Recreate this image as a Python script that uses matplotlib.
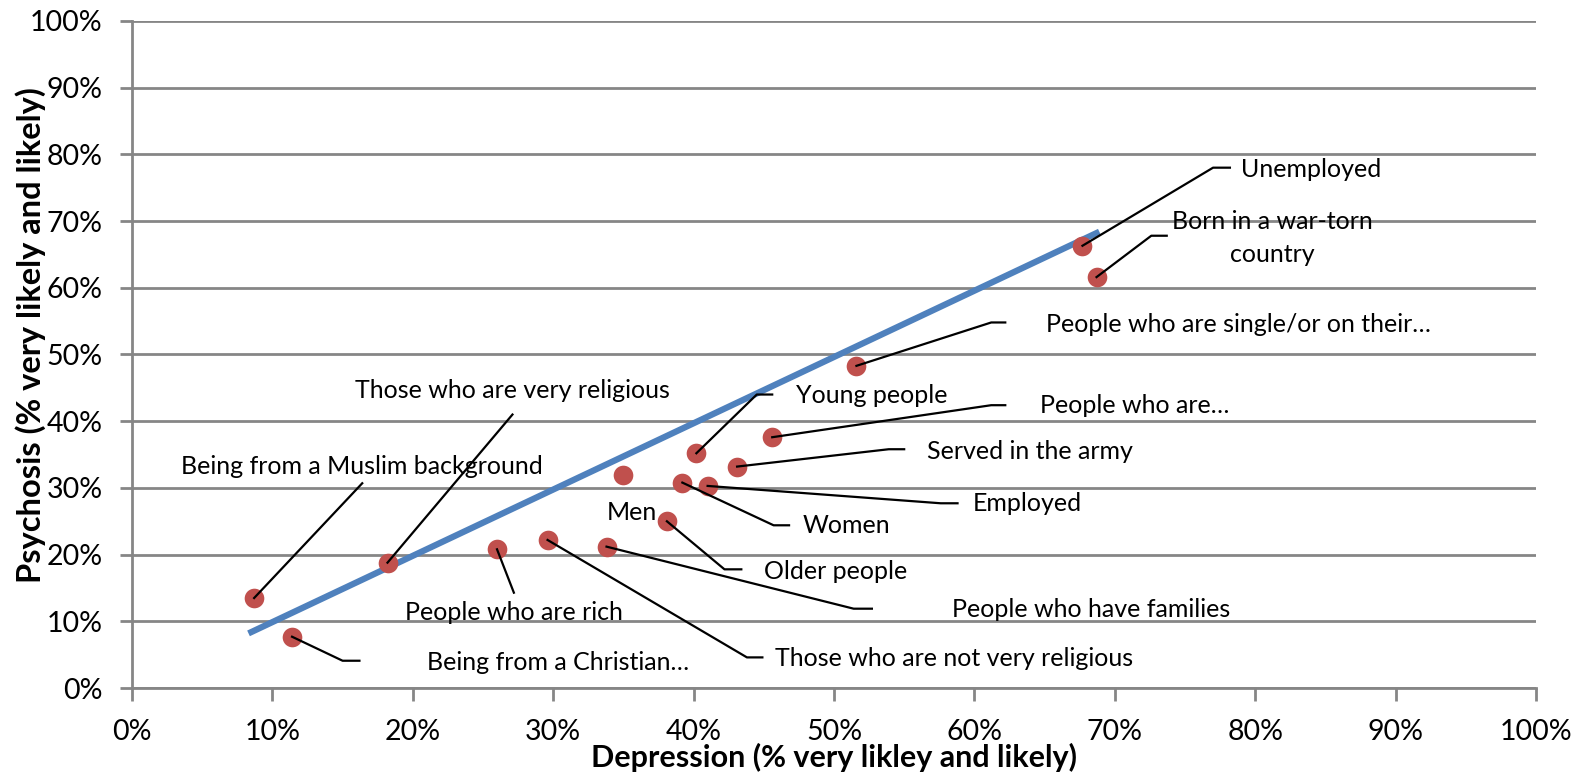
import numpy as np
import matplotlib.pyplot as plt
from matplotlib.ticker import PercentFormatter

plt.rcParams['font.family'] = ['Lato', 'DejaVu Sans']

# datos (% muy probable y probable)
grupos = ['Being from a Muslim background', 'Being from a Christian…', 'Those who are very religious',
          'People who are rich', 'Those who are not very religious', 'People who have families', 'Men',
          'Older people', 'Women', 'Employed', 'Young people', 'Served in the army', 'People who are…',
          'People who are single/or on their…', 'Unemployed', 'Born in a war-torn\ncountry']
depresion = [8.7, 11.4, 18.2, 26.0, 29.6, 33.8, 35.0, 38.1, 39.2, 41.0, 40.2, 43.1, 45.6, 51.6, 67.7, 68.7]
psicosis = [13.5, 7.7, 18.8, 20.8, 22.2, 21.2, 31.9, 25.0, 30.8, 30.3, 35.2, 33.2, 37.6, 48.3, 66.3, 61.6]

# linea de tendencia
tend_x = [8.3, 68.9]
tend_y = [8.2, 68.4]

# posicion de las etiquetas: (x texto, y texto, alineacion, codo x, codo y, fin x)
etiquetas = [
    (16.4, 33.2, 'center', 16.4, 30.7, None),
    (21.0, 3.9, 'left', 15.0, 4.1, 16.2),
    (27.1, 44.6, 'center', 27.1, 41.0, None),
    (27.2, 11.4, 'center', 27.2, 14.3, None),
    (45.8, 4.4, 'left', 43.8, 4.6, 44.9),
    (58.4, 11.8, 'left', 51.4, 11.9, 52.7),
    (35.6, 26.3, 'center', None, None, None),
    (45.0, 17.5, 'left', 42.2, 17.8, 43.4),
    (47.8, 24.3, 'left', 45.7, 24.4, 46.8),
    (59.9, 27.6, 'left', 57.6, 27.7, 58.8),
    (47.3, 43.9, 'left', 44.5, 44.0, 45.6),
    (56.6, 35.4, 'left', 53.9, 35.8, 55.0),
    (64.7, 42.3, 'left', 61.2, 42.4, 62.2),
    (65.1, 54.5, 'left', 61.2, 54.8, 62.2),
    (79.0, 77.7, 'left', 77.0, 78.0, 78.2),
    (81.2, 67.5, 'center', 72.6, 67.8, 73.7),
]

gris = '#868686'

fig = plt.figure(figsize=(15.94, 7.74), dpi=100)
ax = fig.add_axes([0.0828, 0.111, 0.8808, 0.862])

ax.plot(tend_x, tend_y, color='#4F81BD', linewidth=4.5, zorder=2, solid_capstyle='butt')
ax.scatter(depresion, psicosis, s=200, color='#C0504D', zorder=3, linewidths=0)

for i, (tx, ty, ha, cx, cy, fx) in enumerate(etiquetas):
    if cx is not None:
        xs = [depresion[i], cx]
        ys = [psicosis[i], cy]
        if fx is not None:
            xs.append(fx)
            ys.append(cy)
        ax.plot(xs, ys, color='black', linewidth=1.6, zorder=4)
    ax.text(tx, ty, grupos[i], ha=ha, va='center', fontsize=18, zorder=5,
            linespacing=1.55)

ax.set_xlim(0, 100)
ax.set_ylim(0, 100)
ax.set_xticks(np.arange(0, 101, 10))
ax.set_yticks(np.arange(0, 101, 10))
ax.xaxis.set_major_formatter(PercentFormatter(decimals=0))
ax.yaxis.set_major_formatter(PercentFormatter(decimals=0))
ax.grid(axis='y', color=gris, linewidth=2)
ax.set_axisbelow(True)
for lado in ['top', 'right']:
    ax.spines[lado].set_visible(False)
for lado in ['left', 'bottom']:
    ax.spines[lado].set_color(gris)
    ax.spines[lado].set_linewidth(2)
ax.tick_params(axis='both', colors=gris, width=2, length=9, labelcolor='black', labelsize=20.5)
ax.tick_params(axis='x', pad=13)
ax.tick_params(axis='y', pad=12)

fig.text(0.5233, 0.021, 'Depression (% very likley and likely)', fontsize=22,
         fontweight='bold', ha='center', va='center')
fig.text(0.019, 0.567, 'Psychosis (% very likely and likely)', rotation=90, fontsize=23.5,
         fontweight='bold', ha='center', va='center')

plt.savefig('out.png', dpi=100)
